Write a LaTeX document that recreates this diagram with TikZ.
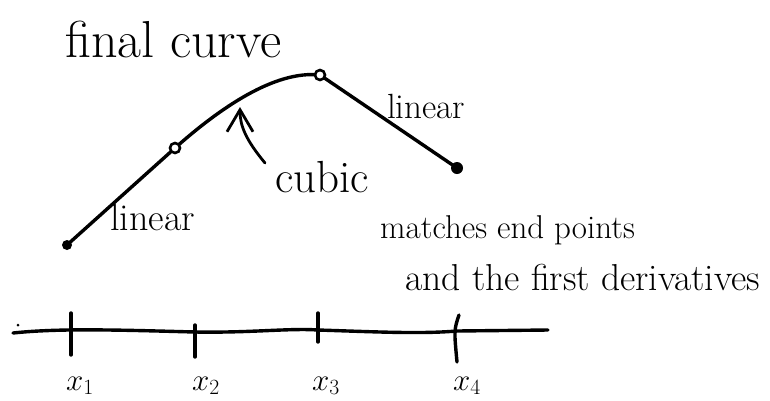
\RequirePackage{fix-cm}
\documentclass[tikz,border=0pt]{standalone}
\usepackage{fontspec}
\usetikzlibrary{arrows.meta}
\begin{document}
\begin{tikzpicture}[x=1pt,y=-1pt,
  ink/.style={line width=3.4pt,line cap=round,line join=round,black},
  thin ink/.style={line width=2.8pt,line cap=round,line join=round,black},
  handtext/.style={anchor=base west,inner sep=0pt,text=black},
  solidpt/.style={circle,fill=black,inner sep=0pt,minimum size=10pt},
  openpt/.style={circle,draw=black,fill=white,line width=2.6pt,inner sep=0pt,minimum size=10pt},
  ticklabel/.style={anchor=base,inner sep=0pt,font=\fontsize{31}{33}\selectfont}]
\useasboundingbox (0,0) rectangle (770,400);

% curve points
\node[solidpt] (p1) at (67,245) {};
\coordinate (p2) at (175,148);
\coordinate (p3) at (320,75);
\node[solidpt,minimum size=12pt] (p4) at (457,168) {};

\draw[ink] (p1.center) -- (p2)
  .. controls (220,108) and (275,70) .. (p3)
  -- (p4.center);
\node[openpt] (c2) at (p2) {};
\node[openpt] (c3) at (p3) {};

% labels on the curve
\node[handtext,font=\fontsize{52}{56}\selectfont] (final) at (65,57) {final curve};
\node[handtext,font=\fontsize{38}{42}\selectfont] (linL) at (110,230) {linear};
\node[handtext,font=\fontsize{45}{49}\selectfont] (cubic) at (275,192) {cubic};
\node[handtext,font=\fontsize{35}{39}\selectfont] (linR) at (387,118) {linear};
\node[handtext,font=\fontsize{33}{37}\selectfont] (match1) at (380,238) {matches end points};
\node[handtext,font=\fontsize{37.5}{41}\selectfont] (match2) at (405,290) {and the first derivatives};

% arrow pointing to cubic part
\coordinate (atail) at (265,163);
\coordinate (atip) at (240,107);
\draw[thin ink,-{Straight Barb[length=22pt,width=26pt,line width=2.8pt]}]
  (atail) .. controls (246,140) and (240,126) .. (atip);

% axis
\coordinate (axL) at (13,333);
\coordinate (axR) at (548,330);
\node[circle,fill=black,inner sep=0pt,minimum size=3pt] (speck) at (18,325) {};
\draw[ink] (axL) .. controls (60,328) and (120,330) .. (195,332)
  .. controls (250,333) and (290,328) .. (318,330)
  .. controls (380,332) and (420,334) .. (457,331)
  -- (axR);

\coordinate (t1a) at (71,313); \coordinate (t1b) at (71,355);
\coordinate (t2a) at (195,325); \coordinate (t2b) at (195,357);
\coordinate (t3a) at (318,313); \coordinate (t3b) at (318,342);
\coordinate (t4a) at (459,315); \coordinate (t4b) at (457,362);
\draw[ink] (t1a) -- (t1b);
\draw[ink] (t2a) -- (t2b);
\draw[ink] (t3a) -- (t3b);
\draw[ink] (t4a) .. controls (454,330) .. (t4b);

\node[ticklabel] (l1) at (80,390) {$x_1$};
\node[ticklabel] (l2) at (206,390) {$x_2$};
\node[ticklabel] (l3) at (326,390) {$x_3$};
\node[ticklabel] (l4) at (467,390) {$x_4$};
\end{tikzpicture}
\end{document}
